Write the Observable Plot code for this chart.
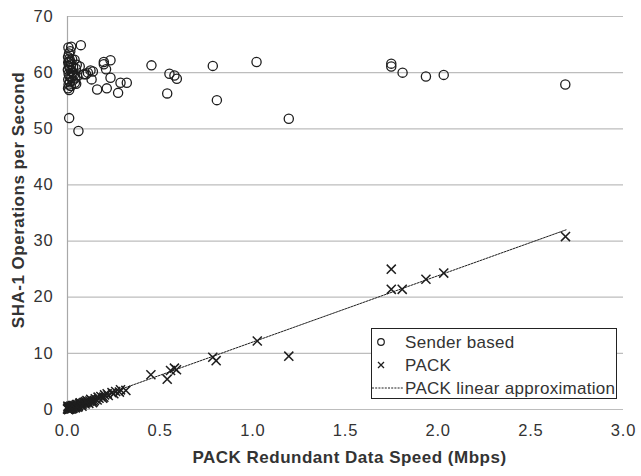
<!DOCTYPE html>
<html>
<head>
<meta charset="utf-8">
<script src="https://cdn.jsdelivr.net/npm/d3@7"></script>
<script src="https://cdn.jsdelivr.net/npm/@observablehq/plot@0.6"></script>
<style>
  html, body { margin: 0; padding: 0; background: #fff; }
  #chart { width: 641px; height: 476px; }
  #chart svg { font-family: "Liberation Sans", Arial, sans-serif; }
  .wide text { letter-spacing: 0.8px; }
  .title { letter-spacing: 0.5px; }
</style>
</head>
<body>
<div id="chart"></div>
<script>
// Sender based: SHA-1 operations per second vs. PACK redundant data speed
const senderX = [
  0.072, 0.196, 0.196, 0.232, 0.066, 0.453, 0.784, 0.550, 0.577, 0.590,
  0.538, 0.806, 0.160, 0.212, 0.273, 0.286, 0.320, 0.232, 0.130, 0.124,
  0.137, 0.110, 0.088, 0.100, 0.208, 0.052, 0.047, 0.009, 0.059, 1.020,
  1.194, 1.747, 1.747, 1.808, 1.934, 2.030, 2.686,
  0.005, 0.020, 0.008, 0.003, 0.010, 0.015, 0.004, 0.020, 0.008, 0.030,
  0.012, 0.002, 0.018, 0.025, 0.006, 0.035, 0.010, 0.020, 0.004, 0.028,
  0.012, 0.040, 0.006, 0.018, 0.003, 0.008, 0.025, 0.030, 0.045, 0.050,
  0.038, 0.042, 0.015, 0.009
];
const senderY = [
  64.9, 61.9, 61.5, 62.2, 61.1, 61.3, 61.2, 59.8, 59.5, 58.9,
  56.3, 55.1, 57.0, 57.2, 56.4, 58.2, 58.2, 59.1, 58.8, 60.4,
  60.2, 60.0, 59.7, 59.7, 60.6, 59.3, 58.0, 51.9, 49.6, 61.9,
  51.8, 61.6, 61.1, 60.0, 59.3, 59.6, 57.9,
  64.5, 64.6, 63.4, 62.8, 62.5, 62.0, 61.8, 61.5, 61.2, 61.0,
  60.8, 60.5, 60.3, 60.0, 59.8, 59.6, 59.4, 59.1, 58.8, 58.6,
  58.3, 58.2, 57.9, 57.6, 57.2, 62.0, 62.4, 59.9, 60.7, 61.4,
  62.3, 59.0, 63.8, 56.9
];

// PACK: SHA-1 operations per second
const packX = [
  2.687, 1.747, 1.747, 1.806, 1.934, 2.030, 1.024, 1.194, 0.784, 0.802,
  0.538, 0.450, 0.556, 0.577, 0.588, 0.315, 0.286, 0.214, 0.196,
  0.000, 0.005, 0.010, 0.015, 0.020, 0.025, 0.030, 0.035, 0.040, 0.045,
  0.050, 0.055, 0.060, 0.065, 0.070, 0.080, 0.085, 0.090, 0.100, 0.110,
  0.120, 0.130, 0.140, 0.150, 0.170, 0.180, 0.200, 0.260, 0.240, 0.008,
  0.012, 0.003, 0.028, 0.018, 0.038,
  0.002, 0.006, 0.011, 0.022, 0.032, 0.042, 0.048, 0.058, 0.068, 0.075,
  0.095, 0.105, 0.115, 0.125, 0.135, 0.160, 0.190, 0.220, 0.250, 0.280,
  0.004, 0.016, 0.026, 0.052, 0.078, 0.098, 0.145, 0.165
];
const packY = [
  30.8, 25.0, 21.4, 21.4, 23.2, 24.3, 12.2, 9.5, 9.3, 8.7,
  5.4, 6.2, 6.95, 7.36, 7.07, 3.4, 3.5, 2.8, 2.2,
  0.1, 0.2, 0.3, 0.1, 0.4, 0.5, 0.3, 0.6, 0.7, 0.5,
  0.8, 0.9, 0.7, 1.0, 1.1, 1.0, 1.2, 1.3, 1.2, 1.4,
  1.5, 1.6, 1.4, 1.9, 2.0, 2.3, 2.6, 3.2, 3.0, 0.0,
  0.5, 0.4, 0.2, 0.6, 0.4,
  0.6, 0.0, 0.1, 0.1, 0.7, 0.3, 0.9, 0.5, 1.2, 0.8,
  1.0, 1.6, 1.1, 1.8, 1.2, 1.7, 2.0, 2.5, 2.8, 3.1,
  0.0, 0.3, 0.7, 0.4, 0.6, 1.4, 1.6, 2.2
];

// PACK linear approximation, end points
const fitX = [0.0, 2.69];
const fitY = [0.2, 32.0];

const xTicks = [0, 0.5, 1.0, 1.5, 2.0, 2.5, 3.0];
const yTicks = [0, 10, 20, 30, 40, 50, 60, 70];

const legendLabels = ["Sender based", "PACK", "PACK linear approximation"];

const sender = senderX.map((x, i) => ({x, y: senderY[i]}));
const pack = packX.map((x, i) => ({x, y: packY[i]}));
const fit = fitX.map((x, i) => ({x, y: fitY[i]}));

const ink = "#1e1e1e";
const grid = "#bdbdbd";

const chart = Plot.plot({
  width: 641,
  height: 476,
  marginLeft: 67,
  marginRight: 18,
  marginTop: 16,
  marginBottom: 67,
  style: {fontFamily: "'Liberation Sans', Arial, sans-serif", fontSize: "16px", color: "#333", background: "#fff"},
  x: {domain: [0, 3], ticks: xTicks, tickFormat: d3.format(".1f")},
  y: {domain: [0, 70], ticks: yTicks},
  marks: [
    Plot.ruleY(yTicks, {stroke: grid, strokeWidth: 1.2}),
    Plot.ruleX([0], {stroke: "#a8a8a8", strokeWidth: 1.2}),
    Plot.axisX({ticks: xTicks, tickFormat: d3.format(".1f"), tickSize: 0, tickPadding: 15, label: null, fontSize: 16.5, fill: "#333", className: "wide"}),
    Plot.axisY({ticks: yTicks, tickSize: 0, tickPadding: 14, label: null, fontSize: 16.5, fill: "#333", className: "wide"}),
    Plot.line(fit, {x: "x", y: "y", stroke: ink, strokeWidth: 1, strokeDasharray: "2,1.2"}),
    Plot.dot(pack, {x: "x", y: "y", symbol: "times", r: 4.2, stroke: ink, strokeWidth: 1.5}),
    Plot.dot(sender, {x: "x", y: "y", symbol: "circle", r: 4.6, stroke: ink, strokeWidth: 1.3, fill: "none"}),
    Plot.text(["PACK Redundant Data Speed (Mbps)"], {frameAnchor: "bottom", textAnchor: "middle", dx: 4, dy: 53, fontWeight: "bold", fontSize: 17, fill: "#333", className: "title"}),
    Plot.text(["SHA-1 Operations per Second"], {frameAnchor: "left", textAnchor: "middle", rotate: -90, dx: -49, dy: -13, fontWeight: "bold", fontSize: 17, fill: "#333", className: "title"})
  ]
});

document.getElementById("chart").appendChild(chart);

// Legend box inside the plot area
const svg = d3.select(chart);
const lg = svg.append("g")
  .attr("font-family", "'Liberation Sans', Arial, sans-serif")
  .attr("font-size", 17)
  .attr("letter-spacing", "0.3px")
  .attr("text-anchor", "start")
  .attr("fill", "#333");
lg.append("rect").attr("x", 371.5).attr("y", 328.5).attr("width", 245).attr("height", 70)
  .attr("fill", "#fff").attr("stroke", "#222").attr("stroke-width", 1);
const rows = [342, 365, 388];
lg.append("circle").attr("cx", 381).attr("cy", rows[0]).attr("r", 3.3).attr("fill", "none").attr("stroke", ink).attr("stroke-width", 1.2);
lg.append("path").attr("d", `M378,${rows[1]-3}L384,${rows[1]+3}M378,${rows[1]+3}L384,${rows[1]-3}`).attr("stroke", ink).attr("stroke-width", 1.3);
lg.append("line").attr("x1", 372).attr("x2", 403).attr("y1", rows[2]).attr("y2", rows[2]).attr("stroke", ink).attr("stroke-width", 1).attr("stroke-dasharray", "2,1.2");
legendLabels.forEach((t, i) => {
  lg.append("text").attr("x", 405).attr("y", rows[i]).attr("dy", "0.35em").text(t);
});
</script>
</body>
</html>
